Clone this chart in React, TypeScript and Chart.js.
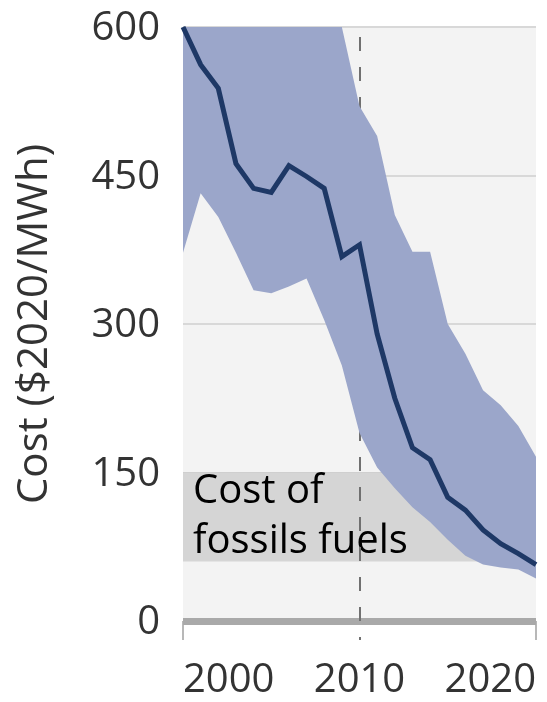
import React, { useEffect, useRef } from 'react';
import { Chart, registerables } from 'chart.js';

Chart.register(...registerables);

// ---- data ----
const years = [2000, 2001, 2002, 2003, 2004, 2005, 2006, 2007, 2008, 2009, 2010, 2011, 2012, 2013, 2014, 2015, 2016, 2017, 2018, 2019, 2020];
const medianCost = [600, 562, 538, 462, 437, 433, 460, 449, 437, 368, 380, 290, 225, 175, 163, 125, 112, 92, 78, 68, 57];
const upperCost = [700, 700, 690, 690, 680, 680, 670, 670, 660, 600, 520, 490, 410, 373, 373, 300, 270, 233, 218, 197, 166];
const lowerCost = [372, 432, 408, 372, 334, 331, 338, 346, 304, 258, 190, 155, 134, 115, 100, 82, 66, 57, 54, 52, 43];
const fossilYears = [2000, 2020];
const fossilHigh = [150, 150];
const fossilLow = [60, 60];
const xTickLabels: Record<number, string> = { 2000: '2000', 2010: '2010', 2020: '2020' };
const yTickValues = [0, 150, 300, 450, 600];
const yTitle = 'Cost ($2020/MWh)';
const fossilLabel = ['Cost of', 'fossils fuels'];
const markerYear = 2010;

const FONT = '"Open Sans", sans-serif';

const toPoints = (xs: number[], ys: number[]) => xs.map((x, i) => ({ x, y: ys[i] }));

const bgPlugin = {
  id: 'plotBg',
  beforeDraw(chart: any) {
    const { ctx, chartArea } = chart;
    ctx.save();
    ctx.fillStyle = '#f3f3f3';
    ctx.fillRect(chartArea.left, chartArea.top, chartArea.right - chartArea.left, chartArea.bottom - chartArea.top);
    ctx.restore();
  },
};

const annotationPlugin = {
  id: 'annot',
  afterDatasetDraw(chart: any, args: any) {
    if (args.index !== 3) return;
    const { ctx, chartArea, scales } = chart;
    const yTop = scales.y.getPixelForValue(fossilHigh[0]);
    ctx.save();
    ctx.fillStyle = '#000000';
    ctx.font = `40px ${FONT}`;
    ctx.textAlign = 'left';
    ctx.textBaseline = 'alphabetic';
    ctx.fillText(fossilLabel[0], chartArea.left + 10, yTop + 30);
    ctx.fillText(fossilLabel[1], chartArea.left + 10, yTop + 80);
    const x = Math.round(scales.x.getPixelForValue(markerYear));
    ctx.strokeStyle = '#707070';
    ctx.lineWidth = 2;
    ctx.setLineDash([14, 16]);
    ctx.beginPath();
    ctx.moveTo(x, chartArea.top + 10);
    ctx.lineTo(x, chartArea.bottom + 19);
    ctx.stroke();
    ctx.restore();
  },
};

export default function App() {
  const ref = useRef<HTMLCanvasElement | null>(null);
  useEffect(() => {
    if (!ref.current) return;
    const chart = new Chart(ref.current, {
      type: 'line',
      data: {
        datasets: [
          {
            data: toPoints(years, medianCost),
            borderColor: '#1e3866',
            borderWidth: 5,
            pointRadius: 0,
            tension: 0,
            fill: false,
            clip: 4,
          } as any,
          {
            data: toPoints(years, upperCost),
            borderColor: 'rgba(0,0,0,0)',
            borderWidth: 0,
            pointRadius: 0,
            backgroundColor: '#9ba6ca',
            fill: '+1',
          },
          {
            data: toPoints(years, lowerCost),
            borderColor: 'rgba(0,0,0,0)',
            borderWidth: 0,
            pointRadius: 0,
            fill: false,
          },
          {
            data: toPoints(fossilYears, fossilHigh),
            borderColor: 'rgba(0,0,0,0)',
            borderWidth: 0,
            pointRadius: 0,
            backgroundColor: '#d5d5d5',
            fill: '+1',
          },
          {
            data: toPoints(fossilYears, fossilLow),
            borderColor: 'rgba(0,0,0,0)',
            borderWidth: 0,
            pointRadius: 0,
            fill: false,
          },
        ],
      },
      options: {
        responsive: false,
        animation: false,
        events: [],
        layout: { padding: { top: 27, right: 11, left: 0, bottom: 0 } },
        plugins: { legend: { display: false }, tooltip: { enabled: false } },
        scales: {
          x: {
            type: 'linear',
            min: 2000,
            max: 2020,
            afterFit: (s: any) => {
              s.height = 81;
              s.paddingLeft = 0;
              s.paddingRight = 0;
            },
            border: { display: false },
            grid: {
              drawOnChartArea: false,
              drawTicks: true,
              tickLength: 19,
              lineWidth: 2,
              color: (c: any) => (c.tick && c.tick.value === markerYear ? 'rgba(0,0,0,0)' : '#b8b8b8'),
            },
            ticks: {
              stepSize: 10,
              align: 'inner',
              maxRotation: 0,
              padding: 17,
              color: '#333333',
              font: { family: FONT, size: 40 },
              callback: (v: any) => xTickLabels[v] ?? '',
            },
          },
          y: {
            min: 0,
            max: 600,
            afterFit: (s: any) => {
              s.width = 183;
              s.paddingTop = 0;
              s.paddingBottom = 0;
            },
            afterBuildTicks: (s: any) => { s.ticks = yTickValues.map((v) => ({ value: v })); },
            border: { display: false },
            grid: {
              drawTicks: false,
              color: (c: any) => (c.tick && c.tick.value === 0 ? '#a9a9a9' : c.tick && c.tick.value === 150 ? '#c9c9c9' : '#d8d8d8'),
              lineWidth: (c: any) => (c.tick && c.tick.value === 0 ? 7 : 2),
            },
            ticks: {
              padding: 23,
              labelOffset: 2,
              color: '#333333',
              font: { family: FONT, size: 40 },
              callback: (v: any) => String(v),
            },
            title: {
              display: true,
              text: yTitle,
              color: '#333333',
              font: { family: FONT, size: 42 },
              padding: { top: 10, bottom: 0 },
            },
          },
        },
      } as any,
      plugins: [bgPlugin, annotationPlugin],
    });
    return () => chart.destroy();
  }, []);
  return (
    <div style={{ position: 'absolute', left: 0, top: 0, width: 547, height: 702 }}>
      <canvas ref={ref} width={547} height={702} style={{ display: 'block' }} />
    </div>
  );
}
